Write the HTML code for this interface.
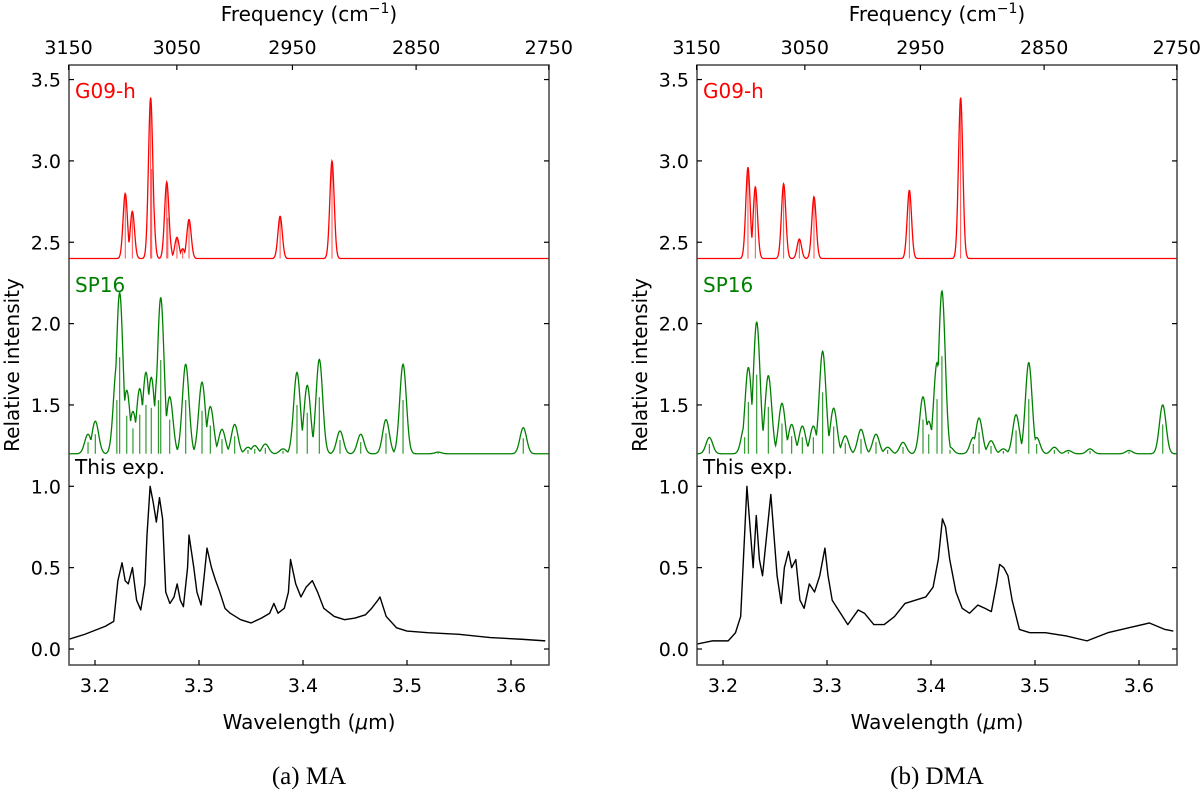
<!DOCTYPE html>
<html><head><meta charset="utf-8"><style>
html,body{margin:0;padding:0;background:#fff;}
svg{display:block;}
text{font-family:"DejaVu Sans","Liberation Sans",sans-serif;}
.cap{font-family:"Liberation Serif",serif;font-size:25px;}
</style></head><body>
<svg id="fig" width="1200" height="807" viewBox="0 0 1200 807" xmlns="http://www.w3.org/2000/svg"></svg>
<script>
// ---- data ----
const yTicks = [0.0,0.5,1.0,1.5,2.0,2.5,3.0,3.5];
const xTicks = [3.2,3.3,3.4,3.5,3.6];
const freqTicks = [3150,3050,2950,2850,2750];
const redBase = 2.4, greenBase = 1.2;

const maRedPos = [3.2291,3.2359,3.2535,3.2545,3.2690,3.2700,3.2788,3.2843,3.2904,3.3780,3.4279];
const maRedVal = [2.80,2.69,3.39,2.95,2.87,2.65,2.53,2.46,2.64,2.66,3.00];
const maGreenPos = [3.1933,3.2003,3.2210,3.2237,3.2305,3.2365,3.2430,3.2490,3.2541,3.2610,3.2632,3.2718,3.2872,3.3029,3.3109,3.3221,3.3343,3.3471,3.3536,3.3638,3.3808,3.3942,3.4041,3.4157,3.4356,3.4555,3.4798,3.4962,3.5300,3.6118];
const maGreenVal = [1.32,1.40,1.75,2.19,1.59,1.46,1.60,1.70,1.67,1.75,2.16,1.55,1.75,1.64,1.49,1.35,1.38,1.24,1.25,1.26,1.23,1.70,1.62,1.78,1.34,1.32,1.41,1.75,1.21,1.36];
const maExpX = [3.175,3.19,3.21,3.218,3.222,3.226,3.229,3.232,3.236,3.240,3.244,3.248,3.250,3.253,3.256,3.259,3.262,3.265,3.268,3.272,3.276,3.279,3.282,3.285,3.289,3.2904,3.295,3.298,3.302,3.305,3.3077,3.312,3.316,3.320,3.325,3.33,3.34,3.35,3.36,3.368,3.372,3.376,3.382,3.386,3.388,3.393,3.398,3.403,3.409,3.414,3.42,3.43,3.44,3.45,3.46,3.466,3.472,3.474,3.480,3.49,3.50,3.52,3.55,3.58,3.61,3.633];
const maExpY = [0.06,0.09,0.14,0.17,0.42,0.53,0.42,0.40,0.50,0.30,0.24,0.40,0.70,1.00,0.90,0.78,0.93,0.80,0.35,0.28,0.32,0.40,0.30,0.26,0.50,0.70,0.50,0.35,0.27,0.45,0.62,0.50,0.42,0.35,0.25,0.22,0.18,0.16,0.19,0.22,0.28,0.22,0.25,0.35,0.55,0.40,0.32,0.38,0.42,0.35,0.25,0.20,0.18,0.19,0.21,0.25,0.30,0.32,0.20,0.13,0.11,0.10,0.09,0.07,0.06,0.05];

const dmaRedPos = [3.2240,3.2311,3.2583,3.2734,3.2875,3.3792,3.4285];
const dmaRedVal = [2.96,2.84,2.86,2.52,2.78,2.82,3.39];
const dmaGreenPos = [3.1869,3.2208,3.2244,3.2324,3.2436,3.2567,3.2660,3.2763,3.2869,3.2958,3.3064,3.3176,3.3327,3.3471,3.3583,3.3731,3.3923,3.3978,3.4058,3.4105,3.4183,3.4407,3.4462,3.4577,3.4696,3.4818,3.4940,3.5016,3.5186,3.5321,3.5529,3.5904,3.6228];
const dmaGreenVal = [1.30,1.37,1.73,2.01,1.68,1.51,1.38,1.37,1.37,1.83,1.48,1.31,1.35,1.32,1.24,1.27,1.55,1.40,1.76,2.20,1.24,1.30,1.42,1.28,1.23,1.44,1.76,1.30,1.24,1.22,1.23,1.22,1.50];
const dmaExpX = [3.175,3.19,3.205,3.212,3.217,3.220,3.223,3.226,3.229,3.232,3.235,3.238,3.242,3.246,3.249,3.252,3.256,3.259,3.263,3.266,3.270,3.274,3.278,3.283,3.288,3.293,3.298,3.301,3.305,3.31,3.315,3.32,3.33,3.336,3.345,3.355,3.365,3.375,3.385,3.395,3.402,3.407,3.411,3.414,3.418,3.424,3.43,3.437,3.445,3.452,3.458,3.463,3.466,3.470,3.474,3.478,3.485,3.495,3.51,3.53,3.55,3.57,3.59,3.61,3.625,3.633];
const dmaExpY = [0.03,0.05,0.05,0.10,0.20,0.60,1.00,0.75,0.50,0.82,0.55,0.45,0.70,0.95,0.70,0.45,0.28,0.50,0.60,0.50,0.55,0.30,0.25,0.40,0.35,0.45,0.62,0.45,0.30,0.25,0.20,0.15,0.24,0.22,0.15,0.15,0.20,0.28,0.30,0.32,0.38,0.55,0.80,0.75,0.55,0.35,0.25,0.22,0.27,0.25,0.23,0.40,0.52,0.50,0.45,0.30,0.12,0.10,0.10,0.08,0.05,0.10,0.13,0.16,0.12,0.11];

// ---- drawing ----
const NS = "http://www.w3.org/2000/svg";
const fig = document.getElementById('fig');
function el(tag, attrs, parent, txt){
  const e = document.createElementNS(NS, tag);
  for (const k in attrs) e.setAttribute(k, attrs[k]);
  if (txt !== undefined) e.textContent = txt;
  (parent||fig).appendChild(e);
  return e;
}
const L0 = 3.175, PXU = 1040, Y0 = 649, PYU = 162.7, TOP = 65, BOT = 665, W = 480;
function yS(v){ return Y0 - v*PYU; }

function envelopePath(xS, pos, val, base, sig){
  let d = '';
  for (let l = L0; l <= L0 + W/PXU + 1e-9; l += 0.0004){
    let m = 0;
    for (let i = 0; i < pos.length; i++){
      const g = (val[i]-base)*Math.exp(-Math.pow(l-pos[i],2)/(2*sig*sig));
      if (g > m) m = g;
    }
    d += (d ? 'L' : 'M') + xS(l).toFixed(2) + ',' + yS(base+m).toFixed(2);
  }
  return d;
}

function panel(x0, name, redPos, redVal, greenPos, greenVal, expX, expY, caption){
  const xS = l => x0 + (l - L0)*PXU;
  const g = el('g', {}, fig);
  
  
  const clip = el('clipPath', {id: 'clip-' + name}, g);
  el('rect', {x: x0, y: TOP, width: W, height: BOT-TOP}, clip);
  const plot = el('g', {'clip-path': 'url(#clip-' + name + ')'}, g);

  for (let i = 0; i < redPos.length; i++){
    const s = el('line', {x1: xS(redPos[i]), x2: xS(redPos[i]), y1: yS(redBase), y2: yS(redVal[i]), stroke: '#ff0000', 'stroke-width': 1, opacity: 0.7}, plot);
    
    
  }
  const rp = el('path', {d: envelopePath(xS, redPos, redVal, redBase, 0.0021), fill: 'none', stroke: '#ff0000', 'stroke-width': 1.3}, plot);
  
  

  for (let i = 0; i < greenPos.length; i++){
    const s = el('line', {x1: xS(greenPos[i]), x2: xS(greenPos[i]), y1: yS(greenBase), y2: yS(greenBase + (greenVal[i]-greenBase)*0.6), stroke: '#008000', 'stroke-width': 1.2, opacity: 0.8}, plot);
    
    
  }
  const gp = el('path', {d: envelopePath(xS, greenPos, greenVal, greenBase, 0.0032), fill: 'none', stroke: '#008000', 'stroke-width': 1.3}, plot);
  
  

  let d = '';
  for (let i = 0; i < expX.length; i++) d += (i ? 'L' : 'M') + xS(expX[i]).toFixed(2) + ',' + yS(expY[i]).toFixed(2);
  const ep = el('path', {d: d, fill: 'none', stroke: '#000', 'stroke-width': 1.4, 'stroke-linejoin': 'round'}, plot);
  
  

  const fr = el('rect', {x: x0, y: TOP, width: W, height: BOT-TOP, fill: 'none', stroke: '#444', 'stroke-width': 1.5}, g);
  
  

  for (const v of yTicks){
    const y = yS(v);
    el('line', {x1: x0, x2: x0+5, y1: y, y2: y, stroke: '#000', 'stroke-width': 1.2}, g);
    el('line', {x1: x0+W-5, x2: x0+W, y1: y, y2: y, stroke: '#000', 'stroke-width': 1.2}, g);
    const t = el('text', {x: x0-8, y: y+7, 'text-anchor': 'end', 'font-size': 19}, g, v.toFixed(1));
    
    
  }
  for (const v of xTicks){
    const x = xS(v);
    el('line', {x1: x, x2: x, y1: BOT, y2: BOT-5, stroke: '#000', 'stroke-width': 1.2}, g);
    const t = el('text', {x: x, y: BOT+27, 'text-anchor': 'middle', 'font-size': 19}, g, v.toFixed(1));
    
    
  }
  for (const f of freqTicks){
    const x = xS(1e4/f);
    if (x <= x0+W+1) el('line', {x1: x, x2: x, y1: TOP, y2: TOP+5, stroke: '#000', 'stroke-width': 1.2}, g);
    const t = el('text', {x: Math.min(x, x0+W+2), y: TOP-11, 'text-anchor': 'middle', 'font-size': 19}, g, String(f));
    
    
  }
  const cx = x0 + W/2;
  const ft = el('text', {x: cx, y: 21, 'text-anchor': 'middle', 'font-size': 20}, g);
  
  
  ft.innerHTML = 'Frequency (cm<tspan dy="-8" font-size="14">−1</tspan><tspan dy="8">)</tspan>';
  const wt = el('text', {x: cx, y: 729, 'text-anchor': 'middle', 'font-size': 20}, g);
  
  
  wt.innerHTML = 'Wavelength (<tspan font-style="italic">μ</tspan>m)';
  const yt = el('text', {x: 0, y: 0, 'text-anchor': 'middle', 'font-size': 20, transform: 'translate(' + (x0-50) + ',365) rotate(-90)'}, g, 'Relative intensity');
  
  

  const l1 = el('text', {x: x0+6, y: 98, 'font-size': 20, fill: '#ff0000'}, g, 'G09-h');
  
  
  const l2 = el('text', {x: x0+6, y: 292, 'font-size': 20, fill: '#008000'}, g, 'SP16');
  
  
  const l3 = el('text', {x: x0+6, y: 474, 'font-size': 20, fill: '#000'}, g, 'This exp.');
  
  

  const cap = el('text', {x: cx, y: 784, 'text-anchor': 'middle', class: 'cap'}, g, caption);
  
  
}

panel(69, 'ma', maRedPos, maRedVal, maGreenPos, maGreenVal, maExpX, maExpY, '(a) MA');
panel(697, 'dma', dmaRedPos, dmaRedVal, dmaGreenPos, dmaGreenVal, dmaExpX, dmaExpY, '(b) DMA');
</script>
</body></html>
